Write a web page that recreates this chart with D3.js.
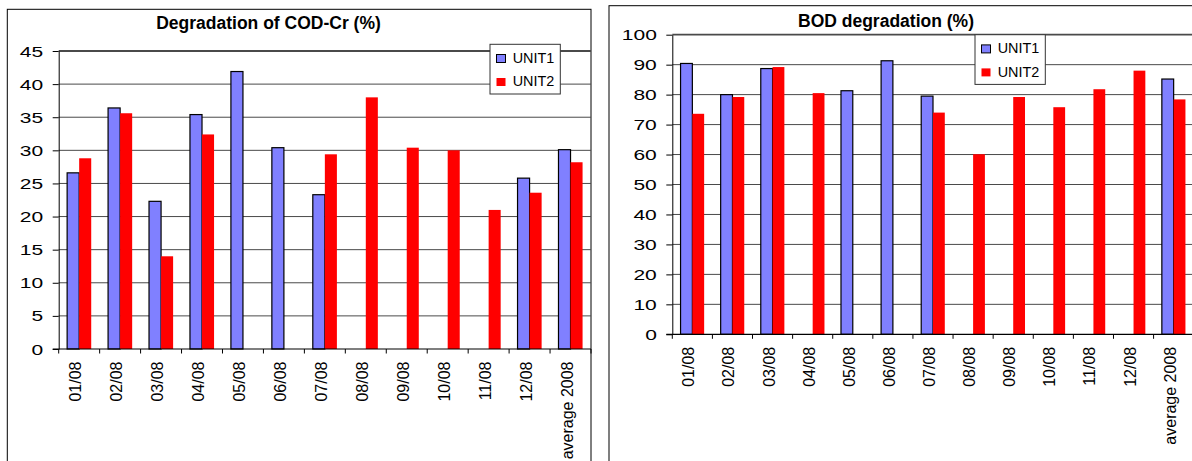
<!DOCTYPE html>
<html>
<head>
<meta charset="utf-8">
<script src="https://cdn.jsdelivr.net/npm/d3@7"></script>
<style>
  body { margin: 0; background: #fff; }
  svg { display: block; }
  text { font-family: Arial, "Liberation Sans", sans-serif; }
</style>
</head>
<body>
<svg id="chart" width="1192" height="461"></svg>
<script>
// ---------- DATA ----------
const categories = ["01/08", "02/08", "03/08", "04/08", "05/08", "06/08", "07/08",
                    "08/08", "09/08", "10/08", "11/08", "12/08", "average 2008"];
const seriesNames = ["UNIT1", "UNIT2"];

const codUnit1 = [26.6, 36.4, 22.3, 35.4, 41.9, 30.4, 23.3, null, null, null, null, 25.8, 30.1];
const codUnit2 = [28.8, 35.6, 14.0, 32.4, null, null, 29.4, 38.0, 30.4, 30.0, 21.0, 23.6, 28.2];

const bodUnit1 = [90.4, 80.0, 88.7, null, 81.3, 91.3, 79.5, null, null, null, null, null, 85.2];
const bodUnit2 = [73.6, 79.2, 89.2, 80.5, null, null, 74.0, 60.1, 79.2, 75.8, 81.8, 88.0, 78.4];

const codTicks = [0, 5, 10, 15, 20, 25, 30, 35, 40, 45];
const bodTicks = [0, 10, 20, 30, 40, 50, 60, 70, 80, 90, 100];

const codTitle = "Degradation of COD-Cr (%)";
const bodTitle = "BOD degradation (%)";

// ---------- STYLE ----------
const colors = { UNIT1: "#8080FF", UNIT2: "#FF0000" };
const svg = d3.select("#chart");
svg.append("rect").attr("width", 1192).attr("height", 461).attr("fill", "#fff");

function drawChart(opt) {
  const g = svg.append("g");

  // outer frame
  g.append("rect")
    .attr("x", opt.frame[0]).attr("y", opt.frame[1])
    .attr("width", opt.frame[2]).attr("height", opt.frame[3])
    .attr("fill", "#fff").attr("stroke", "#000").attr("stroke-width", 1);

  const x0 = d3.scaleBand().domain(categories).range([opt.left, opt.right]);
  const x1 = d3.scaleBand().domain(seriesNames).range([0, x0.bandwidth()])
    .paddingInner(0).paddingOuter(0.7);
  const y = d3.scaleLinear().domain([0, opt.ticks[opt.ticks.length - 1]])
    .range([opt.bottom, opt.top]);

  // gridlines
  g.selectAll("line.grid").data(opt.ticks.filter(t => t > 0)).join("line")
    .attr("class", "grid")
    .attr("x1", opt.left).attr("x2", opt.right)
    .attr("y1", d => y(d)).attr("y2", d => y(d))
    .attr("stroke", "#4a4a4a")
    .attr("stroke-width", (d, i, a) => i === a.length - 1 ? 1.8 : 1);

  // bars
  const rows = categories.map((c, i) => ({ cat: c, vals: [
    { s: "UNIT1", v: opt.s1[i] }, { s: "UNIT2", v: opt.s2[i] }] }));
  const grp = g.selectAll("g.cat").data(rows).join("g")
    .attr("transform", d => `translate(${x0(d.cat)},0)`);
  grp.selectAll("rect").data(d => d.vals.filter(e => e.v != null)).join("rect")
    .attr("x", d => x1(d.s))
    .attr("y", d => y(d.v))
    .attr("width", x1.bandwidth())
    .attr("height", d => y(0) - y(d.v))
    .attr("fill", d => colors[d.s])
    .attr("stroke", d => d.s === "UNIT1" ? "#000" : "none")
    .attr("stroke-width", 1.2);

  // y axis
  const ya = g.append("g").attr("transform", `translate(${opt.left},0)`)
    .call(d3.axisLeft(y).tickValues(opt.ticks).tickSize(6).tickSizeOuter(0));
  ya.select(".domain").attr("stroke", "#000");
  ya.selectAll(".tick line").attr("stroke", "#000");
  ya.selectAll(".tick text")
    .attr("font-family", "Arial, 'Liberation Sans', sans-serif")
    .attr("font-size", 14)
    .attr("fill", "#000")
    .attr("dy", "0.36em")
    .attr("x", -15.5 / 1.5)
    .attr("transform", "scale(1.5,1)");

  // x axis baseline and ticks at category boundaries
  g.append("line")
    .attr("x1", opt.left - 6).attr("x2", opt.right)
    .attr("y1", y(0)).attr("y2", y(0))
    .attr("stroke", "#000").attr("stroke-width", 1.2);
  const bounds = categories.map(c => x0(c)).concat([opt.right]);
  g.selectAll("line.xt").data(bounds).join("line")
    .attr("class", "xt")
    .attr("x1", d => d).attr("x2", d => d)
    .attr("y1", y(0)).attr("y2", y(0) + 4.5)
    .attr("stroke", "#000");
  g.selectAll("text.xl").data(categories).join("text")
    .attr("class", "xl")
    .attr("transform", d => `translate(${x0(d) + x0.bandwidth() / 2 + 2},${y(0)}) rotate(-90)`)
    .attr("x", -12.5).attr("y", 0)
    .attr("text-anchor", "end")
    .attr("font-size", 16)
    .text(d => d);

  // title
  g.append("text")
    .attr("x", opt.titleX).attr("y", opt.titleY)
    .attr("text-anchor", "middle")
    .attr("font-weight", "bold")
    .attr("font-size", 17.5)
    .text(opt.title);

  // legend
  const L = opt.legend;
  g.append("rect").attr("x", L.x).attr("y", L.y).attr("width", 70.3).attr("height", 49.7)
    .attr("fill", "#fff").attr("stroke", "#333").attr("stroke-width", 1);
  const items = g.selectAll("g.leg").data(seriesNames).join("g")
    .attr("transform", (d, i) => `translate(${L.x},${L.y + i * 23.5})`);
  items.append("rect")
    .attr("x", 6.5).attr("y", 10.2).attr("width", 9).attr("height", 8)
    .attr("fill", d => colors[d])
    .attr("stroke", d => d === "UNIT1" ? "#000" : "none");
  items.append("text")
    .attr("x", 22.7).attr("y", 18.4)
    .attr("font-size", 14.4)
    .text(d => d);
}

drawChart({
  frame: [7.3, 9.3, 583.7, 470],
  left: 58.7, right: 591, top: 51, bottom: 349,
  ticks: codTicks, s1: codUnit1, s2: codUnit2,
  title: codTitle, titleX: 268.5, titleY: 28.7,
  legend: { x: 490, y: 44.3 }
});

drawChart({
  frame: [609, 5.7, 600, 470],
  left: 672.3, right: 1193.7, top: 34.7, bottom: 334.3,
  ticks: bodTicks, s1: bodUnit1, s2: bodUnit2,
  title: bodTitle, titleX: 886, titleY: 26.7,
  legend: { x: 975, y: 34.7 }
});
</script>
</body>
</html>
